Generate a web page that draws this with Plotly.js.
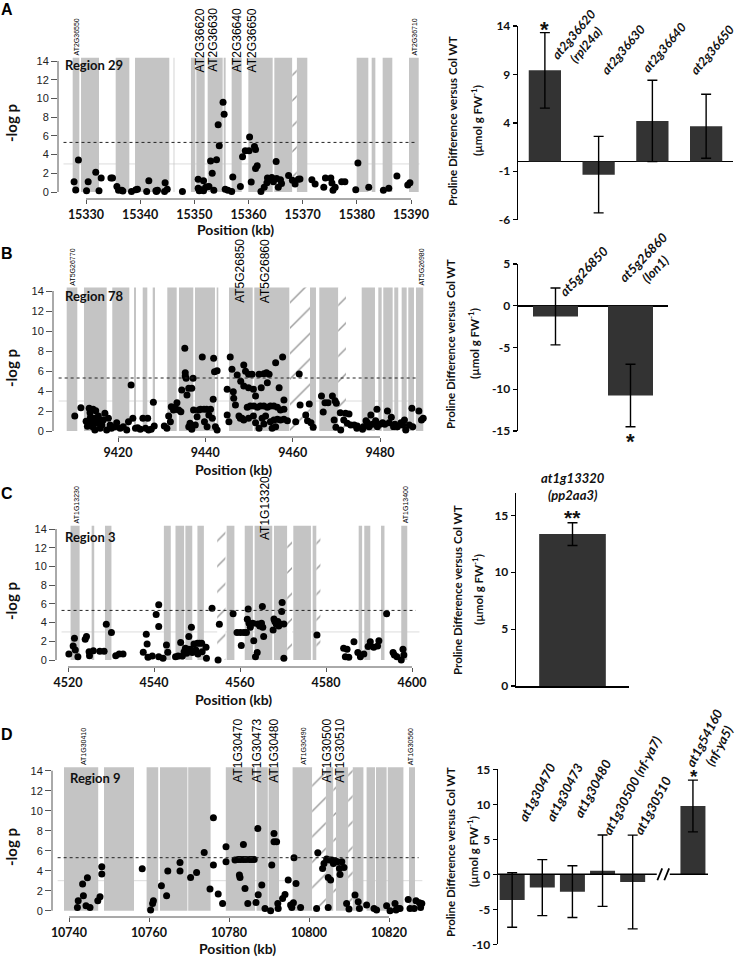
<!DOCTYPE html>
<html><head><meta charset="utf-8">
<script src="https://cdn.plot.ly/plotly-3.0.1.min.js"></script>
<style>html,body{margin:0;padding:0;background:#fff}#chart{width:737px;height:957px}</style>
</head><body><div id="chart"></div>
<script>
// ================= DATA =================
// ---- Panel A : Region 29 ----
const A_gene_start = [15327.54,15329.08,15335.48,15339.05,15346.18,15349.38,15350.37,15352.46,15355.42,15356.89,15359.97,15364.77,15368.9,15379.97,15382.74,15384.77,15389.63];
const A_gene_end   = [15328.77,15332.40,15338.00,15345.38,15346.31,15350.18,15351.91,15355.23,15355.78,15358.74,15364.46,15368.09,15370.86,15382.12,15383.42,15386.55,15391.42];
const A_hatch_start = [15368.1];
const A_hatch_end   = [15368.9];
const A_pos = [15327.8,15328.1,15328.6,15330.1,15330.4,15331.8,15332.4,15332.8,15334.6,15334.9,15335.7,15336.0,15336.6,15336.8,15338.4,15339.2,15339.5,15341.2,15341.6,15342.9,15343.0,15343.2,15344.5,15344.6,15345.0,15347.8,15350.7,15350.7,15350.9,15351.3,15351.7,15351.7,15352.1,15352.4,15352.7,15353.0,15353.3,15353.6,15354.1,15354.4,15354.6,15355.3,15355.5,15355.7,15356.2,15356.9,15357.1,15358.5,15358.9,15359.4,15360.1,15360.2,15360.5,15361.1,15361.3,15361.3,15361.6,15362.3,15362.9,15363.4,15363.5,15363.8,15364.3,15364.6,15365.1,15365.2,15365.5,15365.9,15366.1,15367.4,15368.1,15368.6,15369.2,15369.5,15371.7,15372.3,15373.9,15374.2,15375.2,15375.4,15375.6,15376.0,15377.2,15377.8,15379.8,15380.2,15382.2,15384.9,15385.9,15387.4,15389.4,15389.8];
const A_logp = [1.10,0.21,3.42,0.14,1.10,2.10,0.14,1.50,1.50,1.50,0.60,0.20,0.20,0.10,0.05,0.25,0.30,0.05,1.20,0.14,0.05,0.20,0.05,1.00,0.30,0.05,1.35,0.40,0.14,0.25,1.20,0.14,0.50,0.55,0.60,3.30,2.00,0.20,3.45,7.20,4.95,9.60,8.30,0.30,0.20,0.05,1.60,0.60,3.77,4.40,4.40,5.88,1.07,4.85,4.55,2.50,2.80,0.05,0.50,1.00,1.50,1.30,1.55,1.10,3.25,1.45,0.50,1.30,0.90,1.75,1.25,0.85,1.35,1.40,1.30,0.85,0.50,1.50,1.50,0.95,0.20,0.50,1.10,1.10,0.25,3.10,0.50,0.20,0.40,1.70,0.75,1.00];
const A_xticks = [15330,15340,15350,15360,15370,15380,15390];
const A_big_labels = ['AT2G36620','AT2G36630','AT2G36640','AT2G36650'];
const A_big_label_kb = [15351.1,15353.4,15357.9,15360.7];
const A_small_labels = ['AT2G36550','AT2G36710'];
const A_small_label_kb = [15328.2,15390.6];
const A_region = 'Region 29';
const A_bar_genes = ['at2g36620<br>(rpl24a)','at2g36630','at2g36640','at2g36650'];
const A_bar_values = [9.42,-1.35,4.2,3.65];
const A_bar_err = [3.9,3.95,4.2,3.3];
const A_bar_yticks = [-6,-1,4,9,14];
const A_bar_sig = ['*','','',''];

// ---- Panel B : Region 78 ----
const B_gene_start = [9408.25,9412.21,9418.69,9423.66,9425.66,9427.95,9431.29,9433.97,9437.63,9442.60,9445.42,9451.21,9463.97,9466.10,9475.81,9479.61,9480.75,9483.27,9484.96,9486.48,9488.24];
const B_gene_end   = [9410.68,9417.41,9422.59,9424.12,9426.71,9428.47,9433.44,9437.24,9442.21,9442.97,9450.84,9459.23,9465.34,9470.45,9478.85,9480.39,9482.90,9484.18,9486.11,9487.78,9489.91];
const B_hatch_start = [9459.39,9470.45];
const B_hatch_end   = [9463.97,9472.21];
const B_pos = [9410.1,9411.5,9412.7,9413.0,9413.4,9413.6,9413.7,9413.9,9414.2,9414.3,9414.6,9414.7,9414.9,9415.1,9415.5,9415.7,9415.9,9416.3,9416.6,9417.0,9417.4,9417.8,9418.2,9418.5,9419.3,9419.7,9420.5,9421.2,9422.0,9422.4,9423.0,9423.4,9424.0,9424.5,9425.1,9425.7,9426.3,9426.8,9427.0,9427.6,9428.1,9428.3,9430.6,9431.2,9431.6,9432.0,9432.2,9432.7,9433.1,9433.5,9433.9,9434.4,9434.6,9435.3,9435.4,9435.4,9435.6,9435.8,9436.2,9436.9,9437.2,9437.3,9436.2,9436.5,9436.9,9437.7,9438.1,9438.5,9438.9,9439.3,9439.7,9439.8,9440.3,9440.4,9440.8,9441.2,9441.6,9441.8,9441.9,9442.1,9442.7,9442.7,9442.3,9445.0,9445.0,9445.4,9445.7,9446.1,9446.4,9446.5,9446.9,9447.3,9447.7,9448.1,9448.4,9448.8,
  9449.2,9449.9,9450.7,9448.8,9449.9,9451.0,9451.5,9452.3,9452.8,9453.4,9454.0,9454.2,9454.6,9456.1,9456.9,9457.7,9458.0,9449.6,9450.3,9451.1,9451.9,9452.6,9453.4,9454.2,9454.9,9455.7,9456.5,9457.2,9458.0,9448.8,9449.9,9451.0,9451.5,9452.3,9453.0,9453.4,9453.8,9454.9,9455.3,9455.7,9456.1,9456.5,9457.2,9458.0,9458.8,9448.0,9460.7,9461.5,9461.7,9463.0,9463.8,9463.4,9464.2,9464.7,9466.6,9467.0,9467.4,9468.1,9469.1,9469.7,9470.0,9469.5,9469.9,9470.9,9471.0,9471.7,9472.1,9472.9,9472.5,9473.3,9474.1,9474.7,9474.8,9476.0,9476.2,9476.8,9477.1,9477.5,9477.9,9478.3,9479.0,9479.3,9479.4,9480.0,9480.6,9481.1,9481.7,9482.1,9482.6,9483.1,9483.4,9484.0,9484.8,9485.2,9485.6,9485.9,9486.7,9487.3,9487.5,9488.9,9489.5,9489.9];
const B_logp = [1.5,2.33,0.97,0.47,2.27,1.83,1.37,0.93,0.43,2.17,1.27,0.1,2.03,0.77,1.5,1.1,0.27,0.6,1.1,1.77,0.1,1.27,0.6,0.27,0.43,0.83,0.27,0.43,0.1,0.93,4.6,1.27,0.27,0.33,0.17,1.27,0.27,1.27,0.1,0.17,2.87,0.5,0.5,0.27,1.5,0.93,2.43,2.1,2.37,2.83,2.1,1.93,4.1,8.27,5.5,5.83,5.27,3.6,4.27,4.27,5.27,2.1,0.43,0.77,0.17,0.6,1.43,2.1,2.17,7.4,2.17,0.93,2.17,0.43,1.6,2.17,1.27,3.17,7.27,5.93,6.03,0.1,0.43,1.6,4.17,0.93,7.4,6.17,3.93,3.27,2.6,5.6,1.5,4.97,1.27,6.6,
  5.97,5.67,5.67,4.5,4.33,4.17,3.5,5.67,4.33,5.73,5.83,4.83,5.67,6.83,4.33,7.4,3.1,2.37,2.5,2.5,2.37,2.5,2.5,2.37,2.5,2.5,2.37,2.1,2.17,1.1,1.27,1.5,0.83,0.27,1.27,0.7,1.5,0.93,0.27,1.1,0.43,1.17,1.1,1.17,1.03,1.27,0.93,5.7,2.6,1.6,2.7,1.03,0.83,0.37,3.5,1.9,2.83,2.83,3.5,3.03,2.77,1.1,0.37,1.83,0.1,1.1,1.77,1.7,0.77,0.6,0.6,0.27,0.5,0.17,0.43,1.03,0.83,0.43,1.6,0.67,1.03,2.17,0.43,0.67,0.83,0.67,2.0,0.83,1.37,0.43,0.67,0.43,0.83,0.6,1.1,0.1,0.6,2.27,0.43,2.0,1.1,1.27];
const B_xticks = [9420,9440,9460,9480];
const B_big_labels = ['AT5G26850','AT5G26860'];
const B_big_label_kb = [9447.9,9453.7];
const B_small_labels = ['AT5G26770','AT5G26980'];
const B_small_label_kb = [9409.4,9489.3];
const B_region = 'Region 78';
const B_bar_genes = ['at5g26850','at5g26860<br>(lon1)'];
const B_bar_values = [-1.28,-10.75];
const B_bar_err = [3.4,3.75];
const B_bar_yticks = [-15,-10,-5,0,5];
const B_bar_sig = ['','*'];

// ---- Panel C : Region 3 ----
const C_gene_start = [4520.6,4525.5,4528.6,4542.3,4545.0,4547.3,4550.1,4556.9,4561.1,4563.4,4567.9,4572.4,4576.9,4587.6,4588.9,4592.8,4597.5];
const C_gene_end   = [4522.7,4526.1,4530.1,4543.9,4547.0,4548.9,4551.6,4558.7,4563.0,4567.5,4571.0,4576.5,4577.8,4588.4,4590.3,4593.6,4598.9];
const C_hatch_start = [4554.7,4571.0,4577.8];
const C_hatch_end   = [4556.6,4572.1,4578.7];
const C_pos = [4520.2,4521.2,4521.5,4521.7,4522.3,4524.0,4524.3,4524.9,4525.0,4525.9,4527.4,4528.4,4528.9,4530.1,4531.1,4531.9,4532.8,4537.5,4538.2,4538.4,4538.6,4539.6,4540.5,4541.1,4541.1,4541.1,4542.1,4542.9,4543.2,4545.0,4545.6,4546.2,4546.6,4547.0,4547.3,4547.6,4547.9,4548.1,4548.5,4548.7,4548.9,4549.3,4549.7,4550.1,4550.2,4550.6,4551.1,4551.2,4552.1,4552.2,4553.5,4554.9,4555.2,4558.4,4559.3,4560.1,4560.3,4560.9,4561.5,4561.7,4561.9,4562.1,4562.4,4563.0,4563.2,4563.6,4564.0,4564.2,4564.6,4565.0,4565.2,4565.3,4565.5,4567.7,4567.9,4568.1,4568.4,4568.8,4569.0,4569.3,4569.7,4569.8,4570.2,4570.2,4577.9,4584.1,4584.5,4584.9,4585.3,4586.5,4587.4,4588.0,4588.8,4589.8,4590.3,4591.1,4592.0,4592.3,4594.1,4595.6,4595.9,4596.5,4597.5,4597.9,4598.1];
const C_logp = [0.64,1.49,2.32,1.07,0.36,2.21,2.5,0.89,0.46,1.0,0.93,0.93,3.82,2.93,0.46,0.64,0.64,0.82,2.75,1.7,0.29,0.43,4.86,5.9,3.57,0.36,0.18,1.6,0.82,0.36,0.43,1.86,0.43,0.89,1.25,0.71,1.14,2.5,1.14,3.5,0.79,1.71,1.07,1.79,0.64,1.79,1.79,0.89,1.36,0.18,5.54,0.0,3.82,4.93,2.93,2.93,1.54,2.93,2.93,4.36,5.46,3.93,3.5,3.93,2.07,0.36,0.79,3.86,3.64,3.93,5.71,3.5,2.5,3.21,4.39,4.11,3.86,4.11,3.64,3.86,5.18,6.14,3.86,0.18,2.68,1.25,0.36,1.14,0.29,1.96,0.79,0.36,0.64,1.43,1.96,1.36,1.5,2.07,4.93,0.79,0.54,0.36,0.0,1.14,0.54];
const C_xticks = [4520,4540,4560,4580,4600];
const C_big_labels = ['AT1G13320'];
const C_big_label_kb = [4565.8];
const C_small_labels = ['AT1G13230','AT1G13400'];
const C_small_label_kb = [4521.9,4598.4];
const C_region = 'Region 3';
const C_bar_genes = ['at1g13320<br>(pp2aa3)'];
const C_bar_values = [13.36];
const C_bar_err = [1.0];
const C_bar_yticks = [0,5,10,15];
const C_bar_sig = ['**'];

// ---- Panel D : Region 9 ----
const D_gene_start = [10738.75,10748.75,10759.4,10762.75,10769.8,10779.2,10786.9,10789.9,10795.9,10804.2,10806.75,10810.9,10814.4,10816.75,10819.7,10825.0];
const D_gene_end   = [10747.3,10756.25,10762.3,10769.6,10775.4,10786.5,10789.7,10792.5,10800.8,10806.1,10809.8,10813.6,10816.5,10819.4,10823.6,10826.5];
const D_hatch_start = [10800.8,10806.1,10809.8];
const D_hatch_end   = [10804.2,10806.75,10810.9];
const D_pos = [10742.1,10742.3,10743.4,10743.6,10744.25,10744.6,10745.25,10747.2,10747.75,10748.2,10748.2,10758.3,10760.4,10760.9,10761.1,10763.1,10764.4,10764.7,10767.75,10767.75,10770.4,10771.9,10773.8,10775.25,10776.1,10776.1,10777.3,10778.4,10779.25,10779.25,10781.5,10782.3,10782.6,10782.75,10782.9,10783.6,10783.6,10784.0,10784.25,10784.7,10785.1,10785.7,10786.3,10786.75,10787.2,10787.3,10788.2,10789.0,10790.4,10790.7,10791.25,10791.25,10791.9,10792.2,10792.3,10793.4,10794.0,10794.8,10795.4,10795.7,10796.1,10796.25,10796.75,10797.9,10801.9,10802.2,10803.4,10803.75,10804.4,10804.8,10804.8,10805.1,10805.4,10805.7,10806.1,10806.5,10807.1,10807.6,10807.75,10808.2,10808.75,10809.4,10810.0,10811.5,10812.3,10812.6,10814.4,10816.25,10816.9,10819.4,10820.25,10821.5,10821.75,10822.2,10822.75,10824.8,10825.25,10826.3,10826.75,10827.6,10827.9,10828.2];
const D_logp = [0.33,1.0,2.67,1.5,0.5,3.3,0.33,1.0,1.4,4.4,3.67,4.2,0.07,0.73,1.0,2.5,1.5,3.97,3.97,4.83,3.33,3.83,5.83,2.17,9.3,4.57,1.67,0.73,6.4,4.9,5.07,5.13,3.57,3.33,5.13,5.13,6.63,2.23,5.13,0.73,5.13,5.13,5.13,0.83,8.23,1.6,2.57,0.23,0.0,4.57,7.73,6.9,6.9,0.73,0.23,1.23,1.63,3.07,0.57,0.33,0.8,5.3,2.73,0.33,0.23,5.8,4.23,4.73,5.17,3.33,0.33,5.07,3.07,5.07,4.73,5.0,4.9,4.23,3.63,4.9,4.33,0.73,0.17,1.57,0.9,0.23,0.57,0.23,0.07,0.5,0.0,0.73,0.07,0.23,0.23,1.13,0.23,0.23,1.0,0.8,0.33,0.73];
const D_xticks = [10740,10760,10780,10800,10820];
const D_big_labels = ['AT1G30470','AT1G30473','AT1G30480','AT1G30500','AT1G30510'];
const D_big_label_kb = [10782.25,10787.0,10791.25,10804.5,10807.75];
const D_small_labels = ['AT1G30410','AT1G30490','AT1G30560'];
const D_small_label_kb = [10743.6,10798.75,10825.4];
const D_region = 'Region 9';
const D_bar_genes = ['at1g30470','at1g30473','at1g30480','at1g30500 (nf-ya7)','at1g30510','at1g54160<br>(nf-ya5)'];
const D_bar_values = [-3.67,-1.9,-2.48,0.52,-1.1,9.76];
const D_bar_err = [3.9,4.0,3.7,5.1,6.7,3.7];
const D_bar_yticks = [-10,-5,0,5,10,15];
const D_bar_sig = ['','','','','','*'];

const LOGP_TICKS = [0,2,4,6,8,10,12,14];
const THRESHOLD = 5.3;
const BACKGROUND_LEVEL = 3;
const TRACK_TOP = 14.35;

// ================= LAYOUT HELPERS =================
const W = 737, H = 957;
const fx = p => p / W, fy = p => 1 - p / H;
function lin(d0, d1, p1, v1, p2, v2) { const s = (v2 - v1) / (p2 - p1); return [v1 + (d0 - p1) * s, v1 + (d1 - p1) * s]; }
const CAL = 'Lato, "Open Sans", sans-serif';
const ARI = '"Liberation Sans", Arial, sans-serif';

const data = [];
const layout = {
  width: W, height: H, margin: {l: 0, r: 0, t: 0, b: 0},
  paper_bgcolor: 'white', plot_bgcolor: 'rgba(0,0,0,0)',
  showlegend: false, barmode: 'overlay', hovermode: false,
  font: {family: CAL, color: '#000'},
  shapes: [], annotations: []
};

const SCATTER = [
  {k: 1, gs: A_gene_start, ge: A_gene_end, hs: A_hatch_start, he: A_hatch_end, pos: A_pos, logp: A_logp, xt: A_xticks,
   big: A_big_labels, bigkb: A_big_label_kb, small: A_small_labels, smallkb: A_small_label_kb, region: A_region, letter: 'A',
   xd: [58, 425], xcal: [86, A_xticks[0], 411, A_xticks[A_xticks.length - 1]], yd: [199, 55], ycal: [192, 0, 61, 14],
   regionPx: [63, 65], letterPy: 9, ylabPy: 123, xlabPx: 235, xlabPy: 230},
  {k: 2, gs: B_gene_start, ge: B_gene_end, hs: B_hatch_start, he: B_hatch_end, pos: B_pos, logp: B_logp, xt: B_xticks,
   big: B_big_labels, bigkb: B_big_label_kb, small: B_small_labels, smallkb: B_small_label_kb, region: B_region, letter: 'B',
   xd: [53, 428], xcal: [118, B_xticks[0], 380, B_xticks[B_xticks.length - 1]], yd: [437, 285], ycal: [431, 0, 291, 14],
   regionPx: [63, 296], letterPy: 253, ylabPy: 368, xlabPx: 233, xlabPy: 469},
  {k: 3, gs: C_gene_start, ge: C_gene_end, hs: C_hatch_start, he: C_hatch_end, pos: C_pos, logp: C_logp, xt: C_xticks,
   big: C_big_labels, bigkb: C_big_label_kb, small: C_small_labels, smallkb: C_small_label_kb, region: C_region, letter: 'C',
   xd: [56, 425], xcal: [68, C_xticks[0], 412, C_xticks[C_xticks.length - 1]], yd: [667, 524], ycal: [660, 0, 529, 14],
   regionPx: [63, 537], letterPy: 493, ylabPy: 601, xlabPx: 233, xlabPy: 699},
  {k: 4, gs: D_gene_start, ge: D_gene_end, hs: D_hatch_start, he: D_hatch_end, pos: D_pos, logp: D_logp, xt: D_xticks,
   big: D_big_labels, bigkb: D_big_label_kb, small: D_small_labels, smallkb: D_small_label_kb, region: D_region, letter: 'D',
   xd: [52, 428], xcal: [69, D_xticks[0], 389, D_xticks[D_xticks.length - 1]], yd: [917, 766], ycal: [910.7, 0, 770.7, 14],
   regionPx: [68, 778], letterPy: 734, ylabPy: 847, xlabPx: 238, xlabPy: 948}
];

function geneTrace(s, e, xa, ya, hatched) {
  return {
    type: 'bar', xaxis: xa, yaxis: ya, base: 0,
    x: s.map((v, i) => (v + e[i]) / 2), width: s.map((v, i) => e[i] - v), y: s.map(() => TRACK_TOP),
    marker: hatched
      ? {color: 'white', line: {width: 0}, pattern: {shape: '/', fgcolor: '#9c9c9c', bgcolor: 'white', size: 18, solidity: 0.08}}
      : {color: '#c4c4c4', line: {width: 0}},
    hoverinfo: 'skip', showlegend: false
  };
}

SCATTER.forEach(c => {
  const sfx = c.k === 1 ? '' : String(c.k);
  const xa = 'x' + sfx, ya = 'y' + sfx;
  data.push(geneTrace(c.gs, c.ge, xa, ya, false));
  data.push(geneTrace(c.hs, c.he, xa, ya, true));
  data.push({type: 'scatter', mode: 'markers', x: c.pos, y: c.logp, xaxis: xa, yaxis: ya,
    marker: {color: '#000', size: 7}, hoverinfo: 'skip', cliponaxis: false});
  layout['xaxis' + sfx] = {
    domain: [fx(c.xd[0]), fx(c.xd[1])], range: lin(c.xd[0], c.xd[1], ...c.xcal), anchor: ya,
    showgrid: false, zeroline: false, showline: false, ticks: 'outside', ticklen: 4, tickwidth: 1, tickcolor: '#555',
    tickvals: c.xt, ticktext: c.xt.map(String), tickfont: {family: CAL, size: 12.5, weight: 'bold', color: '#111'}
  };
  layout['yaxis' + sfx] = {
    domain: [fy(c.yd[0]), fy(c.yd[1])], range: lin(c.yd[0], c.yd[1], ...c.ycal), anchor: xa,
    showgrid: false, zeroline: false, showline: false, ticks: 'outside', ticklen: 6, tickwidth: 1, tickcolor: '#555',
    tickvals: LOGP_TICKS, ticktext: LOGP_TICKS.map(String), tickfont: {family: ARI, size: 11, color: '#222'}
  };
  // R-style detached axis lines
  layout.shapes.push({type: 'line', xref: xa, yref: ya + ' domain', x0: c.xt[0], x1: c.xt[c.xt.length - 1], y0: 0, y1: 0, line: {color: '#555', width: 1}});
  layout.shapes.push({type: 'line', xref: xa + ' domain', yref: ya, x0: 0, x1: 0, y0: LOGP_TICKS[0], y1: LOGP_TICKS[LOGP_TICKS.length - 1], line: {color: '#555', width: 1}});
  // reference lines
  layout.shapes.push({type: 'line', layer: 'below', xref: xa + ' domain', yref: ya, x0: 0.015, x1: 0.985, y0: BACKGROUND_LEVEL, y1: BACKGROUND_LEVEL, line: {color: '#dcdcdc', width: 1}});
  layout.shapes.push({type: 'line', xref: xa + ' domain', yref: ya, x0: 0.015, x1: 0.975, y0: THRESHOLD, y1: THRESHOLD, line: {color: '#222', width: 1, dash: 'dot'}});
  // gene labels
  c.big.forEach((t, i) => layout.annotations.push({xref: xa, yref: ya, x: c.bigkb[i], y: 12.6, text: t, textangle: -90,
    xanchor: 'center', yanchor: 'bottom', showarrow: false, font: {family: ARI, size: 12, color: '#000'}}));
  c.small.forEach((t, i) => layout.annotations.push({xref: xa, yref: ya, x: c.smallkb[i], y: TRACK_TOP, text: t, textangle: -90,
    xanchor: 'center', yanchor: 'bottom', showarrow: false, font: {family: ARI, size: 7, color: '#000'}}));
  // texts
  layout.annotations.push({xref: 'paper', yref: 'paper', x: fx(c.regionPx[0]), y: fy(c.regionPx[1]), xanchor: 'left', yanchor: 'middle',
    text: '<b>' + c.region + '</b>', showarrow: false, font: {family: CAL, size: 13, color: '#111'}});
  layout.annotations.push({xref: 'paper', yref: 'paper', x: fx(7), y: fy(c.letterPy), xanchor: 'center', yanchor: 'middle',
    text: '<b>' + c.letter + '</b>', showarrow: false, font: {family: ARI, size: 16, color: '#000'}});
  layout.annotations.push({xref: 'paper', yref: 'paper', x: fx(11), y: fy(c.ylabPy), xanchor: 'center', yanchor: 'middle', textangle: -90,
    text: '<b>-log p</b>', showarrow: false, font: {family: CAL, size: 15, color: '#111'}});
  layout.annotations.push({xref: 'paper', yref: 'paper', x: fx(c.xlabPx), y: fy(c.xlabPy), xanchor: 'center', yanchor: 'middle',
    text: '<b>Position (kb)</b>', showarrow: false, font: {family: CAL, size: 14, color: '#111'}});
});

// ---- bar panels ----
const BARS = [
  {k: 5, genes: A_bar_genes, vals: A_bar_values, err: A_bar_err, yt: A_bar_yticks, sig: A_bar_sig, gap: false,
   xd: [518, 733], xr: [-0.5, 3.5], yd: [219.7, 26], bw: 0.6, zero: true, xline: false,
   angle: -50, lblSize: 12.5, lbl: [[0.02, 8.9], [0.94, 8.45], [1.7, 8.66], [2.6, 8.45]],
   sigPos: [[0, 13.6]], sigSize: 22, title1Px: 453, title2Px: 477, titlePy: 121},
  {k: 6, genes: B_bar_genes, vals: B_bar_values, err: B_bar_err, yt: B_bar_yticks, sig: B_bar_sig, gap: false,
   xd: [518, 668], xr: [-0.5, 1.5], yd: [431, 264], bw: 0.6, zero: true, xline: false,
   angle: -46, lblSize: 13, lbl: [[-0.03, 0.48], [0.77, 0.72]],
   sigPos: [null, [1, 'p', 441]], sigSize: 22, title1Px: 450, title2Px: 473, titlePy: 344},
  {k: 7, genes: C_bar_genes, vals: C_bar_values, err: C_bar_err, yt: C_bar_yticks, sig: C_bar_sig, gap: false,
   xd: [516, 629], xr: [-0.5, 0.5], yd: [686, 492.7], bw: 0.59, zero: false, xline: true,
   angle: 0, lblSize: 13, lbl: [[0, 'p', 486]],
   sigPos: [[0, 'p', 517]], sigSize: 21, title1Px: 457, title2Px: 477, titlePy: 590},
  {k: 8, genes: D_bar_genes, vals: D_bar_values, err: D_bar_err, yt: D_bar_yticks, sig: D_bar_sig, gap: true,
   xd: [498, 708], xr: [-0.47, 6.5], yd: [944.3, 769.3], bw: 0.83, zero: false, xline: false,
   angle: -62, lblSize: 13, lbl: [[0.0, 6.8], [0.93, 6.8], [1.86, 7.3], [2.8, 4.9], [3.85, 4.9], [5.56, 13.5]],
   sigPos: [null, null, null, null, null, [6.03, 14.0]], sigSize: 19, title1Px: 450, title2Px: 472, titlePy: 852}
];

BARS.forEach(c => {
  const xa = 'x' + c.k, ya = 'y' + c.k;
  const xpos = c.genes.map((g, i) => (c.gap && i === c.genes.length - 1) ? i + 1 : i);
  data.push({type: 'bar', x: xpos, y: c.vals, width: c.bw, xaxis: xa, yaxis: ya,
    marker: {color: '#333333', line: {width: 0}},
    error_y: {type: 'data', array: c.err, visible: true, color: '#000', thickness: 1.4, width: 5},
    hoverinfo: 'skip'});
  layout['xaxis' + c.k] = {domain: [fx(c.xd[0]), fx(c.xd[1])], range: c.xr, anchor: ya,
    showgrid: false, zeroline: false, showline: c.xline, linecolor: '#000', linewidth: 1.5,
    ticks: '', showticklabels: false};
  layout['yaxis' + c.k] = {domain: [fy(c.yd[0]), fy(c.yd[1])], range: [c.yt[0], c.k === 7 ? 17 : c.yt[c.yt.length - 1]], anchor: xa,
    showgrid: false, zeroline: c.zero, zerolinecolor: '#000', zerolinewidth: 1.5,
    showline: true, linecolor: '#000', linewidth: 1.3, ticks: 'outside', ticklen: 4, tickwidth: 1.3, tickcolor: '#000',
    tickvals: c.yt, ticktext: c.yt.map(String), tickfont: {family: CAL, size: 12, weight: 'bold', color: '#111'}};
  // gene labels
  c.genes.forEach((g, i) => {
    const a = c.lbl[i];
    const ann = {xref: xa, yref: ya, x: a[0], y: a[1], text: '<b><i>' + g + '</i></b>', showarrow: false,
      font: {family: CAL, size: c.lblSize, color: '#111'}};
    if (a[1] === 'p') { ann.yref = 'paper'; ann.y = fy(a[2]); }
    if (c.angle !== 0) { ann.textangle = c.angle; ann.xanchor = 'left'; ann.yanchor = 'bottom'; }
    else { ann.xanchor = 'center'; ann.yanchor = 'middle'; }
    layout.annotations.push(ann);
  });
  c.sig.forEach((s, i) => {
    if (!s) return;
    const p = c.sigPos[i];
    const ann = {xref: xa, yref: ya, x: p[0], y: p[1], text: '<b>' + s + '</b>', showarrow: false,
      xanchor: 'center', yanchor: 'middle', font: {family: ARI, size: c.sigSize, color: '#111'}};
    if (p[1] === 'p') { ann.yref = 'paper'; ann.y = fy(p[2]); }
    layout.annotations.push(ann);
  });
  // y titles
  layout.annotations.push({xref: 'paper', yref: 'paper', x: fx(c.title1Px), y: fy(c.titlePy), xanchor: 'center', yanchor: 'middle', textangle: -90,
    text: '<b>Proline Difference versus Col WT</b>', showarrow: false, font: {family: CAL, size: 11.5, color: '#111'}});
  layout.annotations.push({xref: 'paper', yref: 'paper', x: fx(c.title2Px), y: fy(c.titlePy), xanchor: 'center', yanchor: 'middle', textangle: -90,
    text: '<b>(µmol g FW<sup>-1</sup>)</b>', showarrow: false, font: {family: CAL, size: 11.5, color: '#111'}});
  if (c.gap) {
    // broken zero line with "//" marks
    layout.shapes.push({type: 'line', xref: xa, yref: ya, x0: c.xr[0], x1: 4.8, y0: 0, y1: 0, line: {color: '#000', width: 1.5}});
    layout.shapes.push({type: 'line', xref: xa, yref: ya, x0: 5.23, x1: c.xr[1], y0: 0, y1: 0, line: {color: '#000', width: 1.5}});
    [4.9, 5.13].forEach(m => layout.shapes.push({type: 'line', xref: xa, yref: ya, x0: m - 0.08, x1: m + 0.08, y0: -0.85, y1: 0.85, line: {color: '#000', width: 1.8}}));
  }
});

Plotly.newPlot('chart', data, layout, {staticPlot: true});
</script>
</body></html>
